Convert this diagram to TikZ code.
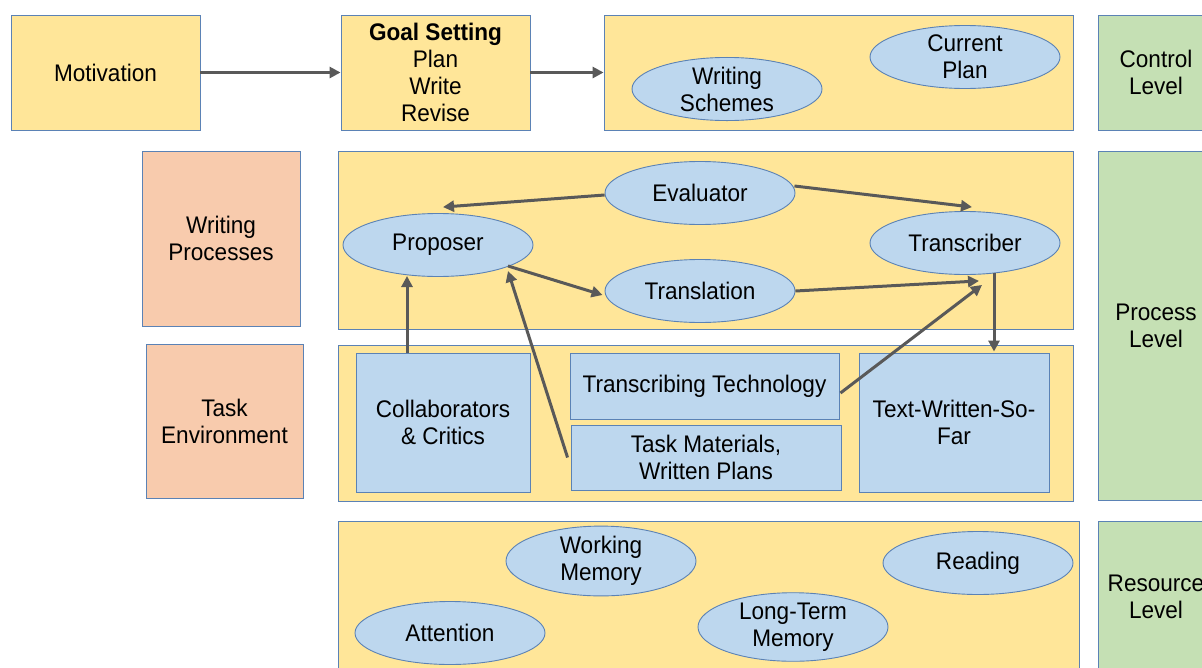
\documentclass[tikz,border=0pt]{standalone}
\usepackage{fontspec}
\setmainfont{Liberation Sans}[FakeStretch=0.94]
\usetikzlibrary{shapes.geometric,arrows.meta,calc}
\definecolor{ylw}{HTML}{FFE699}
\definecolor{pch}{HTML}{F8CBAD}
\definecolor{grn}{HTML}{C5E0B4}
\definecolor{blu}{HTML}{BDD7EE}
\definecolor{edg}{HTML}{5B82B5}
\definecolor{arr}{HTML}{595959}
\begin{document}
\begin{tikzpicture}[x=1pt,y=-1pt,
 every node/.style={font=\fontsize{24}{27}\selectfont, align=center, inner sep=0pt, text=black},
 box/.style={draw=edg, line width=0.9pt, rectangle},
 ybox/.style={box, fill=ylw},
 pbox/.style={box, fill=pch},
 gbox/.style={box, fill=grn},
 bbox/.style={box, fill=blu},
 oval/.style={draw=edg, line width=0.9pt, fill=blu, ellipse, minimum width=190pt, minimum height=63pt},
 conn/.style={draw=arr, line width=3pt, -{Triangle[length=11pt,width=11pt]}},
]
\useasboundingbox (0,0) rectangle (1202,667);
\clip (0,0) rectangle (1202,667);
\fill[white] (0,0) rectangle (1202,667);

% Control level
\node[ybox, minimum width=189pt, minimum height=115pt] (mot) at (105.5,72.5) {Motivation};
\node[ybox, minimum width=189pt, minimum height=115pt] (goal) at (435.5,72.5) {\textbf{Goal Setting}\\Plan\\Write\\Revise};
\node[ybox, minimum width=469pt, minimum height=115pt] (ctl) at (838.5,72.5) {};
\node[oval] (ws) at (727,89) {Writing\\Schemes};
\node[oval] (cp) at (965,57) {Current\\Plan};
\node[gbox, minimum width=116pt, minimum height=115pt] (gctl) at (1156,72.5) {Control\\Level};

% Process level
\node[pbox, minimum width=158pt, minimum height=175pt] (wp) at (221,238.5) {Writing\\Processes};
\node[ybox, minimum width=735pt, minimum height=178pt] (proc) at (705.5,240) {};
\node[oval] (ev) at (700,193) {Evaluator};
\node[oval] (prop) at (438,245) {Proposer};
\node[oval] (tr) at (965,243) {Transcriber};
\node[oval] (tl) at (700,291) {Translation};
\node[gbox, minimum width=116pt, minimum height=349pt] (gproc) at (1156,325.5) {Process\\Level};

% Task environment
\node[pbox, minimum width=157pt, minimum height=154pt] (te) at (224.5,421) {Task\\Environment};
\node[ybox, minimum width=735pt, minimum height=156pt] (task) at (705.5,423) {};
\node[bbox, minimum width=174pt, minimum height=139pt] (cc) at (443,422.5) {Collaborators\\\& Critics};
\node[bbox, minimum width=269pt, minimum height=66pt] (tt) at (704.5,386) {Transcribing Technology};
\node[bbox, minimum width=270pt, minimum height=65pt] (tm) at (706,457.5) {Task Materials,\\Written Plans};
\node[bbox, minimum width=190pt, minimum height=139pt] (tw) at (954,422.5) {Text-Written-So-\\Far};

% Resource level
\node[ybox, minimum width=741pt, minimum height=159pt] (res) at (708.5,600.5) {};
\node[oval] (wm) at (601,561) {Working\\Memory};
\node[oval] (rd) at (978,563) {Reading};
\node[oval] (att) at (450,633) {Attention};
\node[oval] (ltm) at (793,627) {Long-Term\\Memory};
\node[gbox, minimum width=116pt, minimum height=152pt] (gres) at (1156,597) {Resource\\Level};

% Connectors
\draw[conn] (mot.east) -- (goal.west);
\draw[conn] (goal.east) -- (ctl.west);
\draw[conn] ($(ev.west)+(0,2)$) -- ($(prop.north)+(5,-6)$);
\draw[conn] ($(ev.east)+(-1,-7)$) -- ($(tr.north)+(7,-4)$);
\draw[conn] ($(prop.center)+(70,21)$) -- ($(tl.west)+(-2,4)$);
\draw[conn] (tl.east) -- ($(tr.south)+(14,6)$);
\draw[conn] ($(tt.east)+(1,7)$) -- ($(tr.south)+(17,10)$);
\draw[conn] ($(tr.center)+(29,30)$) -- ($(tw.north)+(40,-1)$);
\draw[conn] ($(cc.north)+(-36,0)$) -- ($(prop.center)+(-31,31)$);
\draw[conn] ($(tm.west)+(-3,0)$) -- ($(prop.center)+(70,26)$);
\end{tikzpicture}
\end{document}
